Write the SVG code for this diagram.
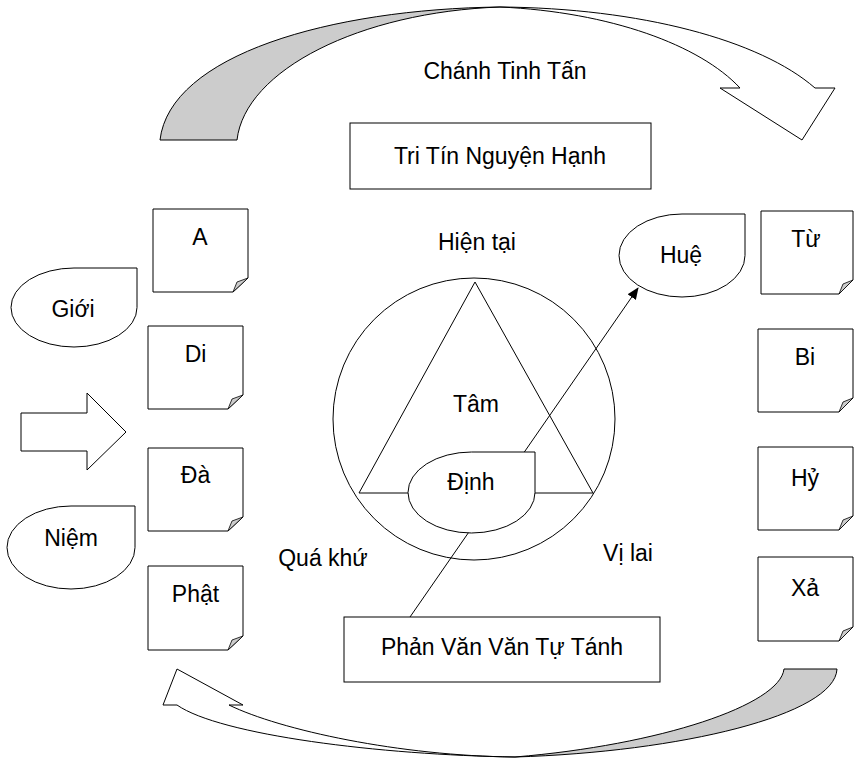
<svg xmlns="http://www.w3.org/2000/svg" width="854" height="763" viewBox="0 0 854 763">
<defs>
<style>
.s{fill:#ffffff;stroke:#000000;stroke-width:1}
.g{fill:#cccccc;stroke:#000000;stroke-width:1}
.f{fill:#cccccc;stroke:#000000;stroke-width:0.8}
.t{font-family:"Liberation Sans",Arial,sans-serif;font-size:23px;fill:#000000;text-anchor:middle}
.c{fill:none;stroke:#000000;stroke-width:1}
</style>
<marker id="ah" markerWidth="12" markerHeight="10" refX="11" refY="5" orient="auto" markerUnits="userSpaceOnUse">
<path d="M0,0 L12,5 L0,10 Z" fill="#000000"/>
</marker>
</defs>
<rect width="854" height="763" fill="#ffffff"/>

<g id="top-arrow">
<path class="g" d="M160,140 C170,55 330,9 500,7 C360,12 245,70 237,140 Z"/>
<path class="s" d="M500,7 C640,8 760,40 815,88 H835 L802,140 L720,88 H740 C700,45 610,12 500,7 Z"/>
<text class="t" x="505" y="79">Chánh Tinh Tấn</text>
</g>

<g id="bottom-arrow">
<path class="g" d="M837,669 C835,715 680,752 515,757 C660,745 780,705 784,669 Z"/>
<path class="s" d="M515,757 C380,755 220,735 177,705 H163 L177,669 L243,705 H229 C280,730 400,756 515,757 Z"/>
</g>

<g id="left-arrow">
<path class="s" d="M21,413 H87 V393 L126,432 L87,470 V451 H21 Z"/>
</g>

<g id="tri-tin">
<rect class="s" x="350" y="123" width="301" height="66"/>
<text class="t" x="500" y="164">Tri Tín Nguyện Hạnh</text>
</g>

<g id="phan-van">
<rect class="s" x="344" y="617" width="316" height="65"/>
<text class="t" x="502" y="655">Phản Văn Văn Tự Tánh</text>
</g>

<g id="tam">
<circle class="s" cx="474" cy="419" r="141"/>
<path class="c" d="M475,282 L593,493 L359,493 Z"/>
<text class="t" x="476" y="412">Tâm</text>
</g>

<g id="labels">
<text class="t" x="477" y="250">Hiện tại</text>
<text class="t" x="323" y="566">Quá khứ</text>
<text class="t" x="628" y="561">Vị lai</text>
</g>

<g id="connectors">
<line class="c" x1="410" y1="617" x2="638" y2="288" marker-end="url(#ah)"/>
</g>

<g id="dinh">
<path class="s" d="M471.5,452 H535 V492.5 A63.5,40.5 0 0 1 471.5,533 A63.5,40.5 0 0 1 408,492.5 A63.5,40.5 0 0 1 471.5,452 Z"/>
<text class="t" x="471" y="490">Định</text>
</g>

<g id="hue">
<path class="s" d="M682,214 H745 V255.5 A63,41.5 0 0 1 682,297 A63,41.5 0 0 1 619,255.5 A63,41.5 0 0 1 682,214 Z"/>
<text class="t" x="681" y="263">Huệ</text>
</g>

<g id="gioi">
<path class="s" d="M74,268 H137 V307.5 A63,39.5 0 0 1 74,347 A63,39.5 0 0 1 11,307.5 A63,39.5 0 0 1 74,268 Z"/>
<text class="t" x="73" y="317">Giới</text>
</g>

<g id="niem">
<path class="s" d="M71,506 H135 V547.5 A64,41.5 0 0 1 71,589 A64,41.5 0 0 1 7,547.5 A64,41.5 0 0 1 71,506 Z"/>
<text class="t" x="71" y="546">Niệm</text>
</g>

<g id="note-a">
<path class="s" d="M153,209 H248 V278 L233,292 H153 Z"/>
<path class="f" d="M233,292 L248,278 L237,282 Z"/>
<text class="t" x="200" y="245">A</text>
</g>
<g id="note-di">
<path class="s" d="M148,326 H243 V395 L228,409 H148 Z"/>
<path class="f" d="M228,409 L243,395 L232,399 Z"/>
<text class="t" x="195.5" y="362">Di</text>
</g>
<g id="note-da">
<path class="s" d="M148,448 H243 V517 L228,531 H148 Z"/>
<path class="f" d="M228,531 L243,517 L232,521 Z"/>
<text class="t" x="195.5" y="483">Đà</text>
</g>
<g id="note-phat">
<path class="s" d="M148,566 H243 V636 L228,650 H148 Z"/>
<path class="f" d="M228,650 L243,636 L232,640 Z"/>
<text class="t" x="195.5" y="602">Phật</text>
</g>

<g id="note-tu">
<path class="s" d="M761,211 H853 V280 L839,294 H761 Z"/>
<path class="f" d="M839,294 L853,280 L843,284 Z"/>
<text class="t" x="806" y="247">Từ</text>
</g>
<g id="note-bi">
<path class="s" d="M758,329 H853 V398 L839,412 H758 Z"/>
<path class="f" d="M839,412 L853,398 L843,402 Z"/>
<text class="t" x="805" y="365">Bi</text>
</g>
<g id="note-hy">
<path class="s" d="M758,447 H853 V516 L839,530 H758 Z"/>
<path class="f" d="M839,530 L853,516 L843,520 Z"/>
<text class="t" x="805" y="486">Hỷ</text>
</g>
<g id="note-xa">
<path class="s" d="M758,557 H853 V627 L839,641 H758 Z"/>
<path class="f" d="M839,641 L853,627 L843,631 Z"/>
<text class="t" x="805" y="596">Xả</text>
</g>
</svg>
